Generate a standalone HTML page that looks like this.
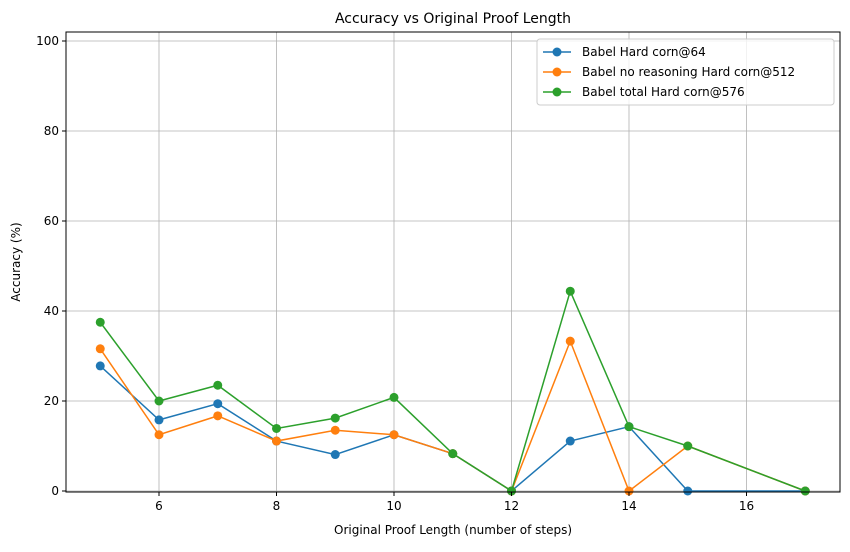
<!DOCTYPE html>
<html><head><meta charset="utf-8"><style>
body{margin:0;background:#fff;font-family:"Liberation Sans","DejaVu Sans",sans-serif}
svg text{font-family:"DejaVu Sans","Liberation Sans",sans-serif}
</style></head><body>
<svg id="chart" width="850" height="547" xmlns="http://www.w3.org/2000/svg">
<rect width="850" height="547" fill="#fff"/>
<g id="grid"></g><g id="series"></g><g id="axes"></g>
<text x="453" y="23" text-anchor="middle" font-size="14">Accuracy vs Original Proof Length</text>
<text x="453" y="534" text-anchor="middle" font-size="12">Original Proof Length (number of steps)</text>
<text transform="translate(20,262) rotate(-90)" text-anchor="middle" font-size="12">Accuracy (%)</text>
<g id="legend"></g>
</svg>
<script>
const xValues=[5,6,7,8,9,10,11,12,13,14,15,17];
const seriesNames=["Babel Hard corn@64","Babel no reasoning Hard corn@512","Babel total Hard corn@576"];
const blueValues=[27.8,15.8,19.4,11.1,8.1,12.5,8.3,0,11.1,14.3,0,0];
const orangeValues=[31.6,12.5,16.7,11.1,13.5,12.5,8.3,0,33.3,0,10,0];
const greenValues=[37.5,20,23.5,13.9,16.2,20.8,8.3,0,44.4,14.3,10,0];
const xTicks=[6,8,10,12,14,16];
const yTicks=[0,20,40,60,80,100];
const colors=["#1f77b4","#ff7f0e","#2ca02c"];
const L=66,R=840,T=32,B=492;
const xs=v=>159+(v-6)*58.75;
const ys=v=>491-v*4.5;
const NS="http://www.w3.org/2000/svg";
function mk(tag,attrs,parent){const e=document.createElementNS(NS,tag);for(const k in attrs)e.setAttribute(k,attrs[k]);parent.appendChild(e);return e;}
const grid=document.getElementById('grid'),axes=document.getElementById('axes'),ser=document.getElementById('series'),leg=document.getElementById('legend');
xTicks.forEach(t=>{const x=xs(t);
 const g=mk('line',{x1:x,x2:x,y1:T,y2:B,stroke:'#b0b0b0','stroke-width':0.8},grid);
 
 mk('line',{x1:x,x2:x,y1:B,y2:B+4,stroke:'#000'},axes);
 const tx=mk('text',{x:x,y:B+18,'text-anchor':'middle','font-size':12},axes);tx.textContent=t;
 });
yTicks.forEach(t=>{const y=ys(t);
 const g=mk('line',{x1:L,x2:R,y1:y,y2:y,stroke:'#b0b0b0','stroke-width':0.8},grid);
 
 mk('line',{x1:L-4,x2:L,y1:y,y2:y,stroke:'#000'},axes);
 const tx=mk('text',{x:L-7,y:y+4,'text-anchor':'end','font-size':12},axes);tx.textContent=t;
 });
const fr=mk('rect',{x:L,y:T,width:R-L,height:B-T,fill:'none',stroke:'#000','stroke-width':1},axes);

[blueValues,orangeValues,greenValues].forEach((vals,i)=>{
 const g=mk('g',{},ser);
 
 const pl=mk('polyline',{points:xValues.map((x,j)=>xs(x)+','+ys(vals[j])).join(' '),fill:'none',stroke:colors[i],'stroke-width':1.5},g);
 
 xValues.forEach((x,j)=>{const c=mk('circle',{cx:xs(x),cy:ys(vals[j]),r:4.5,fill:colors[i]},g);
  });
});
const lb=mk('rect',{x:537,y:39,width:297,height:66,rx:3,fill:'#fff','fill-opacity':0.8,stroke:'#ccc'},leg);

seriesNames.forEach((n,i)=>{const y=52+i*20;
 const g=mk('g',{},leg);
 mk('line',{x1:543,x2:571,y1:y,y2:y,stroke:colors[i],'stroke-width':1.5},g);
 mk('circle',{cx:557,cy:y,r:4.5,fill:colors[i]},g);
 const t=mk('text',{x:582,y:y+4,'font-size':12},g);t.textContent=n;});
</script>
</body></html>
